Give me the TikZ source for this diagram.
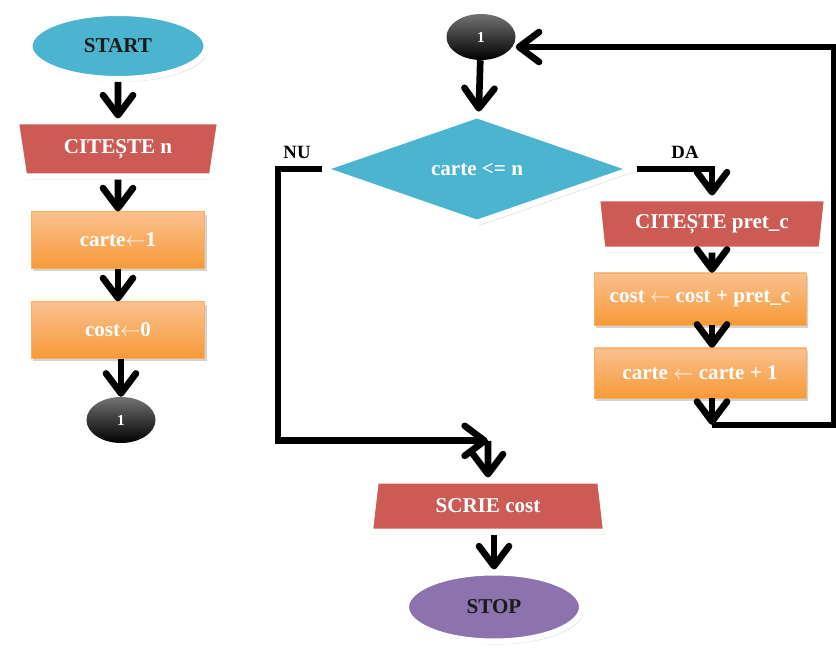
\documentclass[tikz,border=0pt]{standalone}
\usepackage{fontspec}
\setmainfont{Liberation Serif}
\usepackage{tikz}
\usetikzlibrary{arrows.meta,positioning,shapes.geometric,shadows,calc}
\definecolor{skyblue}{HTML}{4BB4CE}
\definecolor{brick}{HTML}{CC5B55}
\definecolor{lightorange}{HTML}{FAC08F}
\definecolor{deeporange}{HTML}{F79A38}
\definecolor{lilac}{HTML}{8D73AE}
\definecolor{ink}{HTML}{1A1A1A}
\newcommand{\assign}{$\leftarrow$}

\begin{document}
\begin{tikzpicture}[
  x=0.03cm, y=-0.03cm,
  every node/.style={font=\bfseries\fontsize{18}{21}\selectfont, inner sep=0pt},
  lifted/.style={drop shadow={shadow xshift=0.6mm, shadow yshift=-0.9mm, opacity=0.35}},
  term/.style={ellipse, draw=white, line width=1.8mm, text=ink, lifted},
  io/.style={trapezium, trapezium stretches=true, draw=white, line width=1.8mm, fill=brick, text=white, lifted},
  slant/.style={trapezium left angle=#1, trapezium right angle=#1},
  proc/.style={rectangle, draw=deeporange!80, thin, top color=lightorange, bottom color=deeporange, text=white, minimum width=5.2cm, minimum height=1.7cm, lifted},
  conn/.style={ellipse, top color=black!55, bottom color=black, text=white, font=\bfseries\fontsize{13}{15}\selectfont, minimum width=2.07cm, minimum height=1.38cm},
  decision/.style={diamond, draw=white, line width=1.8mm, fill=skyblue, text=white, lifted},
  arr/.style={line width=2mm, -{Straight Barb[length=6mm,width=9mm,round]}},
  branch/.style={font=\bfseries\fontsize{16}{19}\selectfont}
]
\useasboundingbox (0,0) rectangle (836,653);
\node[term, fill=skyblue, minimum width=5.31cm, minimum height=1.98cm] (start) at (118,46) {START};
\node[io, shape border rotate=180, slant=76, minimum width=6.15cm, minimum height=1.65cm] (readn) at (118,149) {CITEȘTE n};
\node[proc] (init1) at (118,240) {carte\assign1};
\node[proc] (init2) at (118,330) {cost\assign0};
\node[conn] (conA) at (121,420) {1};
\node[conn] (conB) at (481,37) {1};
\node[decision, minimum width=9.4cm, minimum height=3.3cm] (test) at (477,169) {carte <= n};
\node[io, shape border rotate=180, slant=79, minimum width=6.9cm, minimum height=1.53cm] (readp) at (712,224) {CITEȘTE pret\_c};
\node[proc, minimum width=6.36cm, minimum height=1.56cm] (addc) at (700,299) {cost \assign{} cost + pret\_c};
\node[proc, minimum width=6.36cm, minimum height=1.5cm] (incc) at (700,373) {carte \assign{} carte + 1};
\node[io, slant=79, minimum width=7.1cm, minimum height=1.53cm] (write) at (488,506) {SCRIE cost};
\node[term, fill=lilac, minimum width=5.28cm, minimum height=2.07cm] (stop) at (494,607) {STOP};
\node[branch] (nu) at (297,152) {NU};
\node[branch] (da) at (685,152) {DA};
\draw[arr] (start) -- (readn);
\draw[arr] (readn) -- (init1);
\draw[arr] (init1) -- (init2);
\draw[arr] (init2.south -| conA) -- (conA);
\draw[arr] (conB) -- (test);
\draw[arr] (test.east) -| (readp);
\draw[arr] (readp) -- (readp |- addc.north);
\draw[arr] (addc.south -| readp) -- (incc.north -| readp);
\draw[arr] (incc.south -| readp) -- ++(0,-0.8cm) coordinate (back);
\draw[arr] (back) -- ++(3.66cm,0) |- ($(conB.east)+(0,-0.3cm)$);
\coordinate (join) at ($(write.north)+(0,1.1cm)$);
\draw[arr] ($(test.west)+(0.15cm,0)$) -- ++(-1.33cm,0) |- (join);
\draw[arr] (join) -- (write);
\draw[arr] (write.south -| stop) -- (stop);
\end{tikzpicture}
\end{document}
